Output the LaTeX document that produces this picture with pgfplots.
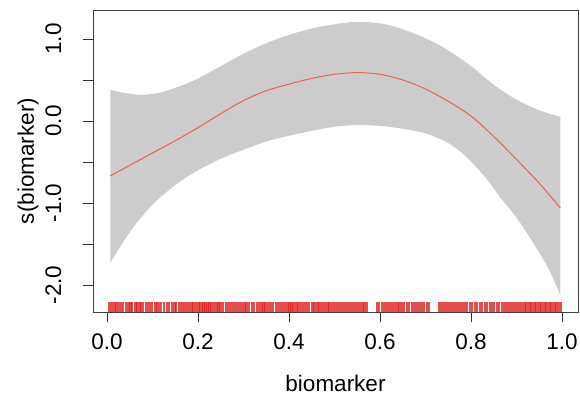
\documentclass[border=0pt]{standalone}
\usepackage{pgfplots}
\pgfplotsset{compat=1.18}
\usepgfplotslibrary{fillbetween}
\usepackage{fontspec}
\setmainfont{Liberation Sans}
\definecolor{band}{RGB}{204,204,204}
\definecolor{fitline}{RGB}{232,100,80}
\definecolor{rugred}{RGB}{224,32,26}
\begin{document}
\begin{tikzpicture}
\fontsize{22.5}{26}\selectfont
\begin{axis}[
  scale only axis,
  width=485pt, height=302pt,
  xmin=-0.031, xmax=1.035,
  ymin=-2.33, ymax=1.354,
  xtick={0,0.2,0.4,0.6,0.8,1.0},
  xticklabels={0.0,0.2,0.4,0.6,0.8,1.0},
  ytick={-2,-1.5,-1,-0.5,0,0.5,1},
  yticklabels={-2.0,,-1.0,,0.0,,1.0},
  xtick pos=bottom, ytick pos=left,
  tick align=outside,
  major tick length=10pt,
  tick style={black!80, line width=0.8pt},
  axis line style={black!75, line width=0.8pt},
  xticklabel style={anchor=center, yshift=-20pt},
  yticklabel style={rotate=90, anchor=south},
  yticklabel shift=14pt,
  xlabel={biomarker},
  ylabel={s(biomarker)},
  every axis x label/.style={at={(rel axis cs:0.5,0)}, yshift=-79pt, anchor=base},
  every axis y label/.style={at={(rel axis cs:0,0.5)}, xshift=-65pt, rotate=90, anchor=center},
  clip=false,
]
\addplot[name path=up, draw=none, smooth] coordinates {
(0.007,0.38) (0.05,0.33) (0.08,0.32) (0.12,0.35) (0.167,0.44) (0.20,0.52)
(0.25,0.67) (0.30,0.82) (0.35,0.95) (0.40,1.05) (0.45,1.13) (0.50,1.18)
(0.55,1.21) (0.60,1.19) (0.644,1.13) (0.70,1.01) (0.75,0.86) (0.80,0.67)
(0.85,0.44) (0.90,0.26) (0.95,0.13) (0.996,0.05)};
\addplot[name path=lo, draw=none, smooth] coordinates {
(0.007,-1.73) (0.03,-1.52) (0.06,-1.28) (0.10,-1.02) (0.15,-0.78) (0.20,-0.60)
(0.25,-0.46) (0.30,-0.35) (0.35,-0.25) (0.40,-0.18) (0.45,-0.12) (0.50,-0.07)
(0.55,-0.05) (0.60,-0.06) (0.644,-0.09) (0.70,-0.15) (0.75,-0.27) (0.79,-0.44)
(0.83,-0.68) (0.864,-0.93) (0.90,-1.18) (0.937,-1.49) (0.97,-1.80) (0.996,-2.12)};
\addplot[band, draw=none] fill between[of=up and lo];
\addplot[fitline, line width=1pt, smooth] coordinates {
(0.007,-0.67) (0.05,-0.54) (0.10,-0.39) (0.15,-0.24) (0.20,-0.08) (0.25,0.09)
(0.30,0.25) (0.35,0.37) (0.40,0.45) (0.45,0.52) (0.50,0.57) (0.55,0.59)
(0.60,0.57) (0.65,0.50) (0.70,0.39) (0.75,0.24) (0.80,0.06) (0.85,-0.19)
(0.90,-0.47) (0.95,-0.76) (0.996,-1.06)};
\addplot[only marks, mark=|, mark size=5pt, mark options={draw=rugred, line width=2.4pt, opacity=0.8}] table[row sep=\\, y expr=-2.27] {
x\\
0.004\\ 0.008\\ 0.013\\ 0.017\\ 0.021\\ 0.026\\ 0.031\\ 0.035\\ 0.042\\ 0.047\\ 0.051\\ 0.055\\ 0.062\\ 0.066\\ 0.071\\ 0.075\\ 0.079\\ 0.086\\ 0.090\\ 0.094\\
0.099\\ 0.106\\ 0.110\\ 0.114\\ 0.119\\ 0.125\\ 0.131\\ 0.136\\ 0.142\\ 0.148\\ 0.152\\ 0.159\\ 0.164\\ 0.170\\ 0.176\\ 0.181\\ 0.186\\ 0.190\\ 0.195\\ 0.201\\
0.204\\ 0.208\\ 0.212\\ 0.216\\ 0.221\\ 0.225\\ 0.229\\ 0.234\\ 0.240\\ 0.245\\ 0.249\\ 0.255\\ 0.261\\ 0.266\\ 0.270\\ 0.276\\ 0.281\\ 0.287\\ 0.292\\ 0.297\\
0.302\\ 0.306\\ 0.312\\ 0.318\\ 0.323\\ 0.329\\ 0.334\\ 0.339\\ 0.344\\ 0.348\\ 0.353\\ 0.359\\ 0.364\\ 0.371\\ 0.376\\ 0.381\\ 0.386\\ 0.392\\ 0.397\\ 0.401\\
0.405\\ 0.410\\ 0.416\\ 0.421\\ 0.427\\ 0.433\\ 0.438\\ 0.444\\ 0.451\\ 0.456\\ 0.462\\ 0.467\\ 0.473\\ 0.479\\ 0.484\\ 0.489\\ 0.494\\ 0.500\\ 0.505\\ 0.511\\
0.516\\ 0.522\\ 0.527\\ 0.533\\ 0.538\\ 0.544\\ 0.549\\ 0.555\\ 0.561\\ 0.566\\ 0.571\\ 0.593\\ 0.598\\ 0.604\\ 0.610\\ 0.615\\ 0.621\\ 0.626\\ 0.632\\ 0.638\\
0.643\\ 0.648\\ 0.653\\ 0.659\\ 0.664\\ 0.670\\ 0.676\\ 0.681\\ 0.687\\ 0.692\\ 0.697\\ 0.703\\ 0.708\\ 0.731\\ 0.737\\ 0.742\\ 0.748\\ 0.753\\ 0.759\\ 0.764\\
0.770\\ 0.775\\ 0.781\\ 0.786\\ 0.791\\ 0.797\\ 0.802\\ 0.808\\ 0.813\\ 0.819\\ 0.824\\ 0.830\\ 0.835\\ 0.841\\ 0.846\\ 0.851\\ 0.857\\ 0.862\\ 0.868\\ 0.873\\
0.879\\ 0.884\\ 0.890\\ 0.895\\ 0.901\\ 0.906\\ 0.912\\ 0.917\\ 0.922\\ 0.928\\ 0.933\\ 0.939\\ 0.944\\ 0.950\\ 0.955\\ 0.961\\ 0.966\\ 0.972\\ 0.977\\ 0.983\\
0.988\\ 0.993\\ 0.997\\
};
\end{axis}
\pgfresetboundingbox
\path[use as bounding box] (current axis.south west) ++(-93pt,-84pt) rectangle ++(580pt,396pt);
\end{tikzpicture}
\end{document}
